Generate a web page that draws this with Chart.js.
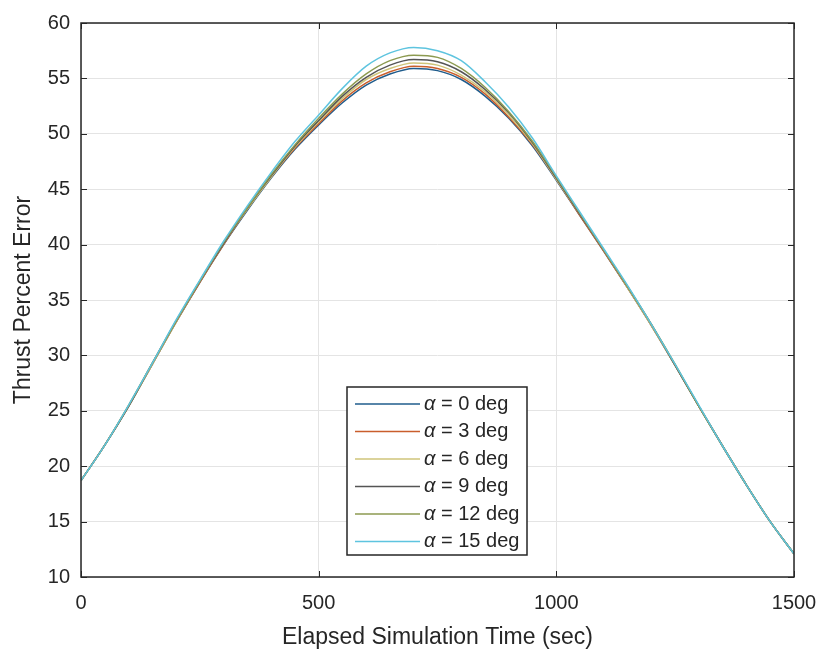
<!DOCTYPE html>
<html>
<head>
<meta charset="utf-8">
<script src="https://cdn.jsdelivr.net/npm/chart.js@4/dist/chart.umd.min.js"></script>
<style>
  html, body { margin: 0; padding: 0; background: #fff; }
  #wrap { width: 824px; height: 654px; position: relative; }
</style>
</head>
<body>
<div id="wrap"><canvas id="thrustChart"></canvas></div>
<script>
// elapsed time samples (sec)
var times = [0, 50, 100, 150, 200, 250, 300, 350, 400, 450, 500, 550, 600, 650, 700, 750,
             800, 850, 900, 950, 1000, 1050, 1100, 1150, 1200, 1250, 1300, 1350, 1400, 1450, 1500];

// thrust percent error, one array per angle of attack
var alpha0  = [18.7, 21.9, 25.4, 29.2, 33.0, 36.6, 40.0, 43.1, 46.0, 48.6, 50.8, 52.8, 54.4, 55.4, 55.9, 55.7,
               54.9, 53.4, 51.4, 48.9, 45.8, 42.6, 39.4, 36.1, 32.7, 29.1, 25.4, 21.8, 18.3, 15.0, 12.1];
var alpha3  = [18.7, 21.9, 25.4, 29.2, 33.0, 36.6, 40.0, 43.2, 46.1, 48.7, 50.9, 53.0, 54.6, 55.6, 56.1, 55.9,
               55.1, 53.6, 51.5, 49.0, 45.9, 42.6, 39.4, 36.1, 32.7, 29.1, 25.4, 21.8, 18.3, 15.0, 12.1];
var alpha6  = [18.7, 21.9, 25.4, 29.2, 33.0, 36.7, 40.1, 43.2, 46.1, 48.8, 51.1, 53.2, 54.9, 55.9, 56.4, 56.2,
               55.3, 53.8, 51.7, 49.1, 45.9, 42.7, 39.5, 36.1, 32.7, 29.1, 25.4, 21.8, 18.3, 15.0, 12.1];
var alpha9  = [18.7, 21.9, 25.4, 29.3, 33.1, 36.7, 40.1, 43.3, 46.2, 48.9, 51.2, 53.4, 55.1, 56.2, 56.7, 56.5,
               55.6, 54.0, 51.9, 49.2, 46.0, 42.7, 39.5, 36.2, 32.8, 29.1, 25.4, 21.8, 18.3, 15.0, 12.1];
var alpha12 = [18.7, 21.9, 25.5, 29.3, 33.1, 36.7, 40.2, 43.3, 46.3, 49.0, 51.4, 53.6, 55.4, 56.6, 57.1, 56.9,
               55.9, 54.2, 52.0, 49.3, 46.1, 42.8, 39.5, 36.2, 32.8, 29.2, 25.4, 21.8, 18.3, 15.0, 12.1];
var alpha15 = [18.7, 21.9, 25.5, 29.3, 33.2, 36.8, 40.3, 43.5, 46.5, 49.3, 51.7, 54.1, 56.1, 57.3, 57.8, 57.5,
               56.6, 54.7, 52.4, 49.6, 46.2, 42.9, 39.6, 36.3, 32.8, 29.2, 25.5, 21.8, 18.3, 15.0, 12.1];

var angleNames = ['0', '3', '6', '9', '12', '15'];
var xTicks = [0, 500, 1000, 1500];
var yTicks = [10, 15, 20, 25, 30, 35, 40, 45, 50, 55, 60];

var allSeries = [alpha0, alpha3, alpha6, alpha9, alpha12, alpha15];
var lineColors = ['#1f5c8c', '#c95e2c', '#cfc57a', '#555555', '#8c9a50', '#5ec4df'];

var FONT = '"Liberation Sans", Arial, Helvetica, sans-serif';
var AXIS_COLOR = '#262626';

var datasets = allSeries.map(function (vals, i) {
    return {
        label: '\u03b1 = ' + angleNames[i] + ' deg',
        data: times.map(function (t, k) { return { x: t, y: vals[k] }; }),
        borderColor: lineColors[i],
        backgroundColor: lineColors[i],
        borderWidth: 1.5,
        pointRadius: 0,
        cubicInterpolationMode: 'monotone',
        fill: false,
        order: allSeries.length - 1 - i
    };
});

// box around the axes with inward ticks, like matlab
var framePlugin = {
    id: 'frame',
    afterDatasetsDraw: function (chart) {
        var ctx = chart.ctx;
        var a = chart.chartArea;
        var xs = chart.scales.x, ys = chart.scales.y;
        ctx.save();
        ctx.strokeStyle = AXIS_COLOR;
        ctx.lineWidth = 1.5;
        ctx.strokeRect(a.left, a.top, a.right - a.left, a.bottom - a.top);
        ctx.lineWidth = 1;
        ctx.beginPath();
        yTicks.forEach(function (v) {
            var py = Math.round(ys.getPixelForValue(v)) + 0.5;
            ctx.moveTo(a.left, py); ctx.lineTo(a.left + 6, py);
            ctx.moveTo(a.right, py); ctx.lineTo(a.right - 6, py);
        });
        xTicks.forEach(function (v) {
            var px = Math.round(xs.getPixelForValue(v)) + 0.5;
            ctx.moveTo(px, a.bottom); ctx.lineTo(px, a.bottom - 6);
            ctx.moveTo(px, a.top); ctx.lineTo(px, a.top + 6);
        });
        ctx.stroke();
        ctx.restore();
    }
};

// legend box inside the plot, bottom centre
var legendPlugin = {
    id: 'boxLegend',
    afterDraw: function (chart) {
        var ctx = chart.ctx;
        var left = 347, top = 387, width = 180, height = 168;
        var rowH = 27.5, firstRow = 404;
        ctx.save();
        ctx.fillStyle = '#ffffff';
        ctx.fillRect(left, top, width, height);
        ctx.strokeStyle = AXIS_COLOR;
        ctx.lineWidth = 1.5;
        ctx.strokeRect(left, top, width, height);
        ctx.textBaseline = 'middle';
        ctx.fillStyle = '#262626';
        angleNames.forEach(function (name, i) {
            var y = firstRow + i * rowH;
            ctx.strokeStyle = lineColors[i];
            ctx.lineWidth = 1.5;
            ctx.beginPath();
            ctx.moveTo(355, y);
            ctx.lineTo(420, y);
            ctx.stroke();
            ctx.font = 'italic 20px ' + FONT;
            ctx.fillText('\u03b1', 424, y);
            var w = ctx.measureText('\u03b1').width;
            ctx.font = '20px ' + FONT;
            ctx.fillText(' = ' + name + ' deg', 424 + w, y);
        });
        ctx.restore();
    }
};

var ctx = document.getElementById('thrustChart').getContext('2d');
new Chart(ctx, {
    type: 'line',
    data: { datasets: datasets },
    options: {
        responsive: true,
        maintainAspectRatio: false,
        animation: false,
        layout: { padding: { top: 14, right: 30, left: 0, bottom: 0 } },
        plugins: {
            legend: { display: false },
            tooltip: { enabled: false }
        },
        scales: {
            x: {
                type: 'linear',
                min: 0,
                max: 1500,
                afterFit: function (scale) {
                    scale.height = 77;
                    scale.paddingLeft = 0;
                    scale.paddingRight = 0;
                },
                afterBuildTicks: function (scale) {
                    scale.ticks = xTicks.map(function (v) { return { value: v }; });
                },
                grid: { color: '#e4e4e4', lineWidth: 1, drawTicks: false },
                border: { display: false },
                ticks: {
                    color: '#262626',
                    padding: 14,
                    font: { family: FONT, size: 20 },
                    maxRotation: 0,
                    callback: function (v) { return String(v); }
                },
                title: {
                    display: true,
                    text: 'Elapsed Simulation Time (sec)',
                    color: '#262626',
                    font: { family: FONT, size: 23 },
                    padding: { top: 0, bottom: 3 }
                }
            },
            y: {
                min: 10,
                max: 60,
                afterFit: function (scale) { scale.width = 81; },
                afterBuildTicks: function (scale) {
                    scale.ticks = yTicks.map(function (v) { return { value: v }; });
                },
                grid: { color: '#e4e4e4', lineWidth: 1, drawTicks: false },
                border: { display: false },
                ticks: { color: '#262626', padding: 11, font: { family: FONT, size: 20 } },
                title: {
                    display: true,
                    text: 'Thrust Percent Error',
                    color: '#262626',
                    font: { family: FONT, size: 23 },
                    padding: { top: 10, bottom: 0 }
                }
            }
        }
    },
    plugins: [framePlugin, legendPlugin]
});
</script>
</body>
</html>
